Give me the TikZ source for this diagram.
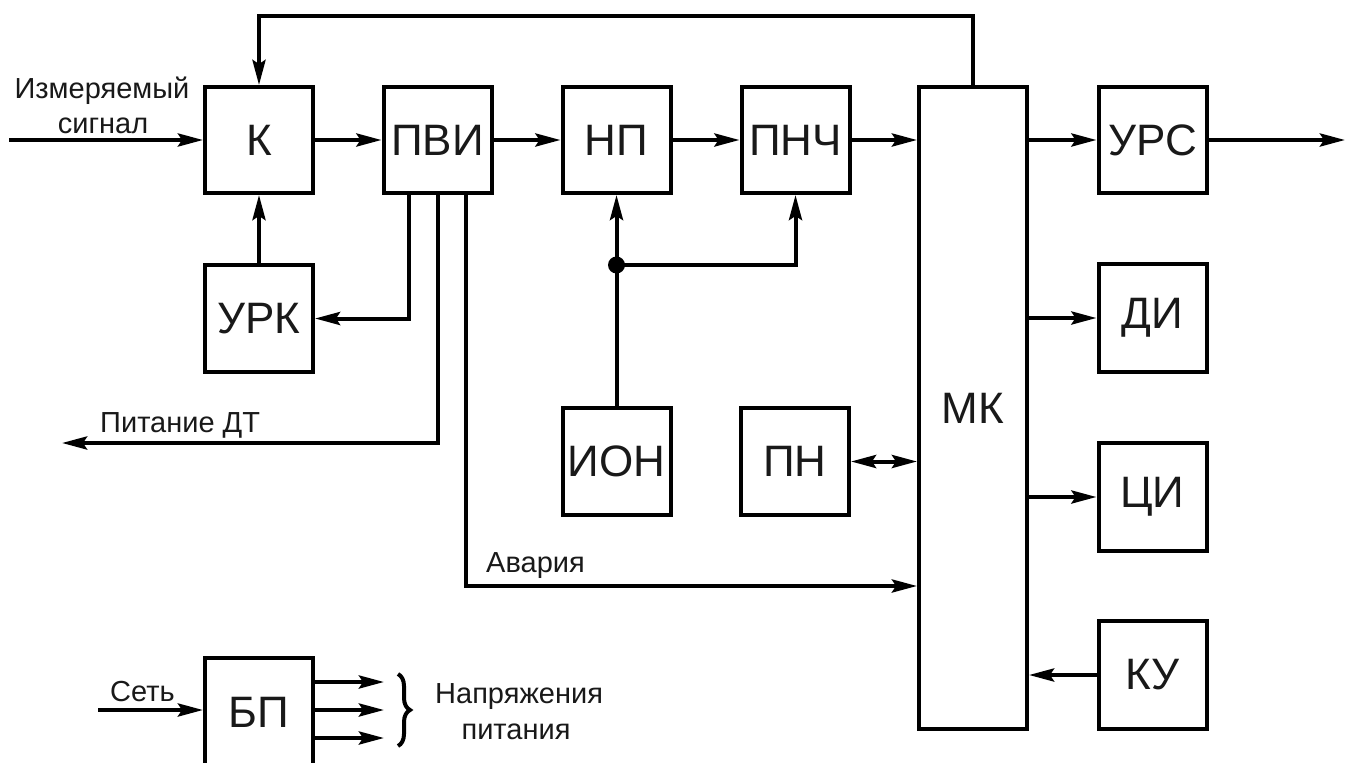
\documentclass[tikz,border=0pt]{standalone}
\usepackage{fontspec}
\setmainfont{Liberation Sans}
\usetikzlibrary{arrows.meta,decorations.pathreplacing}
\begin{document}
\begin{tikzpicture}[x=1pt,y=-1pt,
  blk/.style={draw, line width=4pt, minimum width=108pt, minimum height=106pt, inner sep=0pt,
    font=\fontsize{44}{50}\selectfont, text=black!90},
  lbl/.style={font=\fontsize{29}{34}\selectfont, inner sep=0pt, text=black!90},
  tip/.tip={Stealth[length=25pt,width=13pt,inset=4pt]},
  arr/.style={line width=4pt, -tip},
  darr/.style={line width=4pt, tip-tip},
  wire/.style={line width=4pt}
]
\useasboundingbox (0,0) rectangle (1345,763);
\fill[white] (0,0) rectangle (1345,763);

% blocks
\node[blk] (K)    at (259,140)   {К};
\node[blk] (PVI)  at (437.5,140) {ПВИ};
\node[blk] (NP)   at (616.5,140) {НП};
\node[blk] (PNCh) at (795.5,140) {ПНЧ};
\node[blk] (URS)  at (1152.5,140) {УРС};
\node[blk, minimum height=107pt] (URK) at (259,318.5) {УРК};
\node[blk, minimum height=107pt] (ION) at (616.5,461.5) {ИОН};
\node[blk, minimum height=107pt] (PN)  at (795,461.5) {ПН};
\node[blk, minimum height=108pt] (DI)  at (1152.5,318) {ДИ};
\node[blk, minimum height=108pt] (CI)  at (1152.5,497) {ЦИ};
\node[blk, minimum height=108pt] (KU)  at (1152.5,675) {КУ};
\node[blk, minimum height=108pt] (BP)  at (259,712) {БП};
\node[blk, minimum height=642pt] (MK)  at (973,408) {МК};

% coordinates
\coordinate (in)  at (9,140);
\coordinate (out) at (1345,140);
\coordinate (fb)  at (259,16);
\coordinate (p1)  at ([xshift=-28.5pt]PVI.south);
\coordinate (p3)  at ([xshift=28.5pt]PVI.south);
\coordinate (pdt) at (62,443);
\coordinate (avy) at (0,586);
\coordinate (j)   at (616.5,265);
\coordinate (setin) at (98,710);
\coordinate (o1) at (384,682);
\coordinate (o2) at (384,710);
\coordinate (o3) at (384,738);

% signal path
\draw[arr] (in) -- (K.west);
\draw[arr] (K.east) -- (PVI.west);
\draw[arr] (PVI.east) -- (NP.west);
\draw[arr] (NP.east) -- (PNCh.west);
\draw[arr] (PNCh.east) -- (PNCh.east -| MK.west);
\draw[arr] (MK.east |- URS.west) -- (URS.west);
\draw[arr] (URS.east) -- (out);

% feedback
\draw[arr] (MK.north) |- (fb) -- (K.north);
\draw[arr] (URK.north) -- (K.south);

% from PVI
\draw[arr] (p1) |- (URK.east);
\draw[arr] (PVI.south) |- (pdt);
\draw[arr] (p3) |- (MK.west |- avy);

% reference voltage
\draw[arr] (ION.north) -- (NP.south);
\draw[arr] (j) -| (PNCh.south);
\fill[black] (j) circle (8.5pt);

% PN <-> MK
\draw[darr] (PN.east) -- (PN.east -| MK.west);

% MK outputs
\draw[arr] (MK.east |- DI.west) -- (DI.west);
\draw[arr] (MK.east |- CI.west) -- (CI.west);
\draw[arr] (KU.west) -- (KU.west -| MK.east);

% power supply
\draw[arr] (setin) -- (setin -| BP.west);
\draw[arr] (BP.east |- o1) -- (o1);
\draw[arr] (BP.east |- o2) -- (o2);
\draw[arr] (BP.east |- o3) -- (o3);
\draw[line width=4pt, decorate, decoration={brace, amplitude=12pt, aspect=0.5}] (398,674) -- (398,746);

% labels
\node[lbl, anchor=base] at (102,98)  {Измеряемый};
\node[lbl, anchor=base] at (103,133) {сигнал};
\node[lbl, anchor=base west] at (100,432) {Питание ДТ};
\node[lbl, anchor=base west] at (486,572) {Авария};
\node[lbl, anchor=base west] at (110,701) {Сеть};
\node[lbl, anchor=base west] at (435,703) {Напряжения};
\node[lbl, anchor=base] at (516,739) {питания};
\end{tikzpicture}
\end{document}
